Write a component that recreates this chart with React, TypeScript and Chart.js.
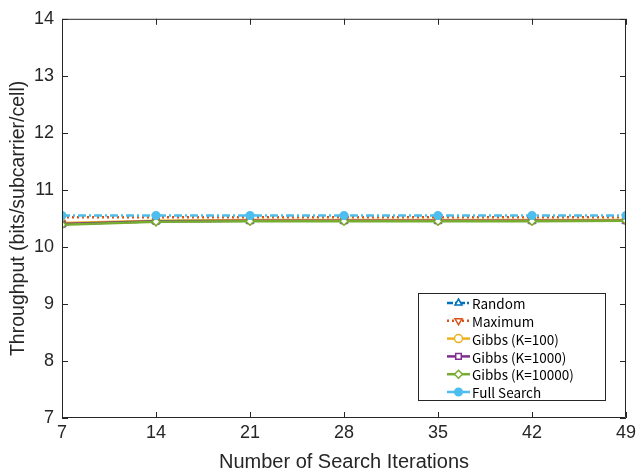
import React, { useEffect, useRef } from "react";
import { Chart, registerables } from "chart.js";

Chart.register(...registerables);

const iterations = [7, 14, 21, 28, 35, 42, 49];
const randomVals = [10.4, 10.45, 10.46, 10.46, 10.46, 10.46, 10.46];
const maximumVals = [10.52, 10.52, 10.52, 10.52, 10.52, 10.52, 10.52];
const gibbs100Vals = [10.42, 10.46, 10.47, 10.47, 10.47, 10.47, 10.47];
const gibbs1000Vals = [10.4, 10.45, 10.46, 10.46, 10.46, 10.46, 10.46];
const gibbs10000Vals = [10.39, 10.44, 10.45, 10.45, 10.45, 10.45, 10.46];
const fullSearchVals = [10.55, 10.55, 10.55, 10.55, 10.55, 10.55, 10.55];
const seriesNames = ["Random", "Maximum", "Gibbs (K=100)", "Gibbs (K=1000)", "Gibbs (K=10000)", "Full Search"];
const yTicks = [7, 8, 9, 10, 11, 12, 13, 14];
const xTitle = "Number of Search Iterations";
const yTitle = "Throughput (bits/subcarrier/cell)";

const toPts = (vals: number[]) => vals.map((v, i) => ({ x: iterations[i], y: v }));

const boxPlugin = {
  id: "boxTicks",
  afterDraw(chart: any) {
    const { ctx, chartArea: a, scales } = chart;
    ctx.save();
    ctx.strokeStyle = "#262626";
    ctx.lineWidth = 1;
    ctx.beginPath();
    ctx.rect(a.left + 0.5, a.top + 0.5, a.right - a.left - 1, a.bottom - a.top - 1);
    ctx.stroke();
    const tl = 6;
    ctx.beginPath();
    for (const v of yTicks) {
      const y = Math.round(scales.y.getPixelForValue(v)) + 0.5;
      ctx.moveTo(a.left, y); ctx.lineTo(a.left + tl, y);
      ctx.moveTo(a.right, y); ctx.lineTo(a.right - tl, y);
    }
    for (const v of iterations) {
      const x = Math.round(scales.x.getPixelForValue(v)) + 0.5;
      ctx.moveTo(x, a.bottom); ctx.lineTo(x, a.bottom - tl);
      ctx.moveTo(x, a.top); ctx.lineTo(x, a.top + tl);
    }
    ctx.stroke();

    // legend
    const lx = 418, ly = 293, lw = 187, lh = 107;
    ctx.fillStyle = "#ffffff";
    ctx.fillRect(lx, ly, lw, lh);
    ctx.strokeStyle = "#262626";
    ctx.strokeRect(lx + 0.5, ly + 0.5, lw, lh);
    ctx.font = "13.5px 'Noto Sans CJK JP', 'Liberation Sans', sans-serif";
    ctx.textBaseline = "middle";
    chart.data.datasets.forEach((ds: any, i: number) => {
      const y = ly + 10 + i * 17.8;
      ctx.save();
      ctx.strokeStyle = ds.borderColor;
      ctx.lineWidth = ds.borderWidth;
      ctx.setLineDash(ds.borderDash || []);
      ctx.beginPath();
      ctx.moveTo(447, y); ctx.lineTo(470, y);
      ctx.stroke();
      ctx.restore();
      ctx.save();
      ctx.strokeStyle = ds.pointBorderColor;
      ctx.fillStyle = ds.pointBackgroundColor;
      ctx.lineWidth = ds.pointBorderWidth;
      const cx = 458.5, r = ds.pointRadius;
      ctx.beginPath();
      const st = ds.pointStyle;
      if (st === "circle") {
        ctx.arc(cx, y, r, 0, Math.PI * 2);
      } else if (st === "triangle") {
        const dir = ds.pointRotation === 180 ? -1 : 1;
        ctx.moveTo(cx, y - dir * r);
        ctx.lineTo(cx + r * 0.87, y + dir * r * 0.5);
        ctx.lineTo(cx - r * 0.87, y + dir * r * 0.5);
        ctx.closePath();
      } else if (st === "rect") {
        ctx.rect(cx - r * 0.7, y - r * 0.7, r * 1.4, r * 1.4);
      } else if (st === "rectRot") {
        ctx.moveTo(cx, y - r); ctx.lineTo(cx + r, y); ctx.lineTo(cx, y + r); ctx.lineTo(cx - r, y); ctx.closePath();
      }
      ctx.fill();
      ctx.stroke();
      ctx.restore();
      ctx.fillStyle = "#000000";
      ctx.fillText(seriesNames[i], 472, y + 1);
    });
    ctx.restore();
  },
};

export default function App() {
  const ref = useRef<HTMLCanvasElement>(null);
  useEffect(() => {
    if (!ref.current) return;
    const mk = (label: string, data: number[], color: string, style: string, dash: number[], fill: string, order: number, rot = 0, r = 4) => ({
      label,
      data: toPts(data),
      borderColor: color,
      backgroundColor: color,
      borderWidth: 2.5,
      borderDash: dash,
      pointStyle: style,
      pointRotation: rot,
      pointRadius: r,
      pointBorderColor: color,
      pointBackgroundColor: fill,
      pointBorderWidth: 1.5,
      order,
      tension: 0,
    });
    const chart = new Chart(ref.current, {
      type: "line",
      data: {
        datasets: [
          mk(seriesNames[0], randomVals, "#0072BD", "triangle", [6, 2, 2, 2], "#ffffff", 5),
          mk(seriesNames[1], maximumVals, "#D95319", "triangle", [2, 3], "#ffffff", 4, 180),
          mk(seriesNames[2], gibbs100Vals, "#EDB120", "circle", [], "#ffffff", 3),
          mk(seriesNames[3], gibbs1000Vals, "#7E2F8E", "rect", [], "#ffffff", 2),
          mk(seriesNames[4], gibbs10000Vals, "#77AC30", "rectRot", [], "#ffffff", 1),
          mk(seriesNames[5], fullSearchVals, "#4DBEEE", "circle", [8, 3, 2, 3], "#4DBEEE", 0, 0, 3.8),
        ] as any,
      },
      options: {
        animation: false,
        responsive: false,
        maintainAspectRatio: false,
        layout: { padding: { top: 14, right: 12, left: 0, bottom: 0 } },
        plugins: { legend: { display: false }, tooltip: { enabled: false } },
        scales: {
          x: {
            type: "linear",
            min: 7,
            max: 49,
            afterBuildTicks: (s: any) => { s.ticks = iterations.map((v) => ({ value: v })); },
            afterFit: (s: any) => { s.height = 56; },
            grid: { display: false, drawTicks: false },
            border: { display: false },
            ticks: { color: "#262626", font: { family: "'Liberation Sans', Arial", size: 18 }, padding: 4, maxRotation: 0 },
            title: { display: true, text: xTitle, color: "#262626", font: { family: "'Liberation Sans', Arial", size: 20 }, padding: { top: 0, bottom: 0 } },
          },
          y: {
            type: "linear",
            min: 7,
            max: 14,
            afterBuildTicks: (s: any) => { s.ticks = yTicks.map((v) => ({ value: v })); },
            afterFit: (s: any) => { s.width = 62; },
            grid: { display: false, drawTicks: false },
            border: { display: false },
            ticks: { color: "#262626", font: { family: "'Liberation Sans', Arial", size: 18 }, padding: 8 },
            title: { display: true, text: yTitle, color: "#262626", font: { family: "'Liberation Sans', Arial", size: 19.5 }, padding: { top: 7, bottom: 0 } },
          },
        },
      },
      plugins: [boxPlugin],
    });
    return () => chart.destroy();
  }, []);
  return (
    <div style={{ position: "absolute", left: 0, top: 0, width: 640, height: 474, background: "#fff" }}>
      <canvas ref={ref} width={640} height={474} style={{ width: 640, height: 474 }} />
    </div>
  );
}
